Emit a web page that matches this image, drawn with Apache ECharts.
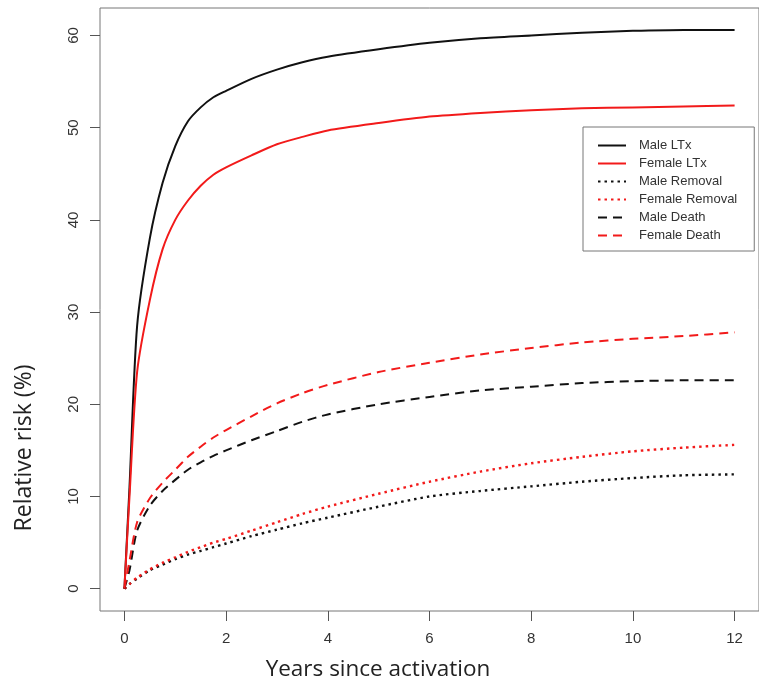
<!DOCTYPE html>
<html>
<head>
<meta charset="utf-8">
<script src="https://cdn.jsdelivr.net/npm/echarts@6/dist/echarts.min.js"></script>
<style>
  html, body { margin: 0; padding: 0; background: #fff; }
  #chart { width: 759px; height: 692px; }
</style>
</head>
<body>
<div id="chart"></div>
<script>
// years since activation (shared time grid)
const years = [0, 0.1, 0.25, 0.5, 0.75, 1, 1.25, 1.5, 1.75, 2, 2.5, 3, 3.5, 4, 5, 6, 7, 8, 9, 10, 11, 12]

// relative risk (%)
const maleLTx = [0, 11, 28.5, 38, 44, 48, 50.7, 52.2, 53.3, 54, 55.3, 56.3, 57.1, 57.7, 58.5, 59.2, 59.7, 60.0, 60.3, 60.5, 60.6, 60.6]
const femaleLTx = [0, 10, 23.5, 31.3, 36.8, 40, 42.1, 43.7, 44.9, 45.7, 47, 48.2, 49, 49.7, 50.5, 51.2, 51.6, 51.9, 52.1, 52.2, 52.3, 52.4]
const maleRemoval = [0, 0.5, 1.1, 2.0, 2.6, 3.2, 3.7, 4.1, 4.5, 4.9, 5.7, 6.4, 7.1, 7.7, 8.9, 10.0, 10.6, 11.1, 11.6, 12.0, 12.3, 12.4]
const femaleRemoval = [0, 0.5, 1.2, 2.1, 2.8, 3.4, 4.0, 4.5, 5.0, 5.4, 6.3, 7.2, 8.1, 8.9, 10.3, 11.6, 12.7, 13.6, 14.3, 14.9, 15.3, 15.6]
const maleDeath = [0, 2, 6.3, 9, 10.6, 11.8, 12.9, 13.7, 14.4, 15, 16.1, 17.1, 18.1, 18.9, 20.0, 20.8, 21.5, 21.9, 22.3, 22.5, 22.6, 22.6]
const femaleDeath = [0, 3, 7.2, 9.8, 11.5, 12.9, 14.3, 15.4, 16.4, 17.2, 18.7, 20.1, 21.2, 22.1, 23.5, 24.5, 25.4, 26.1, 26.7, 27.1, 27.4, 27.8]

const xTicks = [0, 2, 4, 6, 8, 10, 12]
const yTicks = [0, 10, 20, 30, 40, 50, 60]

const BLACK = '#111111'
const RED = '#f21a1a'
const DASHED = [9, 6]
const DOTTED = [2.5, 4]

function pairs(vals) {
  return years.map((x, i) => [x, vals[i]])
}

function line(name, vals, color, type) {
  return {
    name: name,
    type: 'line',
    data: pairs(vals),
    symbol: 'none',
    smooth: 0.25,
    lineStyle: { color: color, width: type === DOTTED ? 2.4 : 2, type: type },
    itemStyle: { color: color },
    z: 3,
  }
}

const chart = echarts.init(document.getElementById('chart'))

chart.setOption({
  animation: false,
  grid: {
    left: 100,
    top: 8,
    right: -4,
    bottom: 81,
    show: true,
    borderColor: '#777',
    borderWidth: 1,
  },
  legend: {
    orient: 'vertical',
    left: 583,
    top: 127,
    padding: [12, 17, 9, 14],
    itemWidth: 28,
    itemHeight: 14,
    itemGap: 5,
    borderColor: '#777',
    borderWidth: 1,
    itemStyle: { opacity: 0 },
    textStyle: {
      fontFamily: 'Liberation Sans, Arial, sans-serif',
      fontSize: 13,
      color: '#333',
      padding: [0, 0, 0, 8],
    },
    data: ['Male LTx', 'Female LTx', 'Male Removal', 'Female Removal', 'Male Death', 'Female Death'],
  },
  xAxis: {
    type: 'value',
    min: -0.48,
    max: 12.48,
    axisLine: { show: false, onZero: false },
    splitLine: { show: false },
    axisTick: {
      show: true,
      length: 10,
      customValues: xTicks,
      lineStyle: { color: '#555' },
    },
    axisLabel: {
      customValues: xTicks,
      margin: 20,
      fontFamily: 'Liberation Sans, Arial, sans-serif',
      fontSize: 15,
      color: '#333',
    },
  },
  yAxis: {
    type: 'value',
    min: -2.42,
    max: 62.98,
    axisLine: { show: false, onZero: false },
    splitLine: { show: false },
    axisTick: {
      show: true,
      length: 10,
      customValues: yTicks,
      lineStyle: { color: '#555' },
    },
    axisLabel: {
      customValues: yTicks,
      rotate: 90,
      margin: 19,
      fontFamily: 'Liberation Sans, Arial, sans-serif',
      fontSize: 15,
      color: '#333',
    },
  },
  graphic: [
    {
      type: 'text',
      x: 24,
      y: 448,
      rotation: Math.PI / 2,
      style: {
        text: 'Relative risk (%)',
        fontFamily: 'Open Sans, sans-serif',
        fontSize: 23,
        fill: '#222',
        align: 'center',
        verticalAlign: 'middle',
      },
    },
    {
      type: 'text',
      x: 378,
      y: 670,
      style: {
        text: 'Years since activation',
        fontFamily: 'Open Sans, sans-serif',
        fontSize: 22.5,
        fill: '#222',
        align: 'center',
        verticalAlign: 'middle',
      },
    },
  ],
  series: [
    line('Male LTx', maleLTx, BLACK, 'solid'),
    line('Female LTx', femaleLTx, RED, 'solid'),
    line('Male Removal', maleRemoval, BLACK, DOTTED),
    line('Female Removal', femaleRemoval, RED, DOTTED),
    line('Male Death', maleDeath, BLACK, DASHED),
    line('Female Death', femaleDeath, RED, DASHED),
  ],
})
</script>
</body>
</html>
